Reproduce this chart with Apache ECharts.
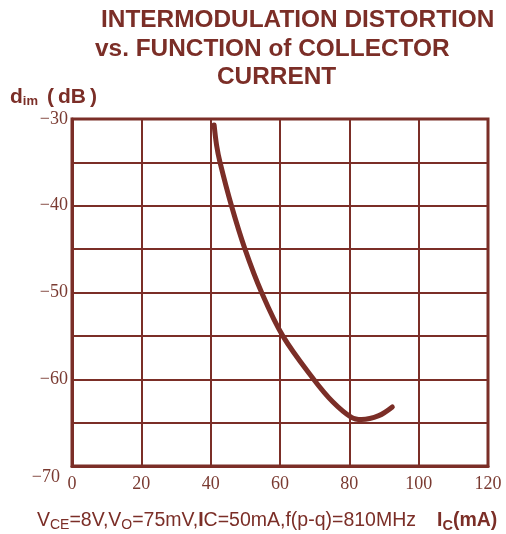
<!DOCTYPE html>
<html><head><meta charset="utf-8">
<script src="https://cdn.jsdelivr.net/npm/echarts@6/dist/echarts.min.js"></script>
<style>html,body{margin:0;padding:0;background:#fff}#c{width:506px;height:534px}</style>
</head><body><div id="c"></div>
<script>
const xCurrent = [41.0, 41.7, 42.7, 46.0, 49.9, 54.7, 60.8, 69.7, 75.2, 80.6, 83.5, 88.5, 92.4];
const yDim     = [-30.7, -33.0, -35.0, -40.0, -45.0, -50.0, -55.0, -60.0, -62.6, -64.4, -64.65, -64.2, -63.2];
const xTicks = [0, 20, 40, 60, 80, 100, 120];
const yTicks = [-70, -60, -50, -40, -30];

const C = '#7b2e27';
const LBL = '#7a3a31';
const T = {fontFamily: 'Liberation Sans', fontSize: 24.4, fontWeight: 'bold', color: C};
const chart = echarts.init(document.getElementById('c'));
chart.setOption({
  animation: false,
  backgroundColor: '#fff',
  grid: {left: 72, right: 18, top: 119, bottom: 68, show: true, borderColor: C, borderWidth: 3},
  title: [
    {text: 'INTERMODULATION DISTORTION', left: 96, top: 3, textStyle: T},
    {text: 'vs. FUNCTION of COLLECTOR', left: 90, top: 32, textStyle: T},
    {text: 'CURRENT', left: 212, top: 60, textStyle: T},
    {text: '{d|d}{sub|im}{p|(}{d|dB}{q|)}', left: 5, top: 82, textStyle: {color: C, rich: {
      d: {fontFamily: 'Liberation Sans', fontSize: 21, fontWeight: 'bold', color: C},
      sub: {fontFamily: 'Liberation Sans', fontSize: 13, fontWeight: 'bold', color: C, padding: [8, 0, 0, 0]},
      p: {fontFamily: 'Liberation Sans', fontSize: 21, color: C, padding: [0, 4, 0, 9]},
      q: {fontFamily: 'Liberation Sans', fontSize: 21, color: C, padding: [0, 0, 0, 4]}}}},
    {text: 'V{sub|CE}=8V,V{sub|O}=75mV,{b|I}C=50mA,f(p-q)=810MHz', left: 32, top: 504, textStyle: {fontFamily: 'Liberation Sans', fontSize: 19.5, fontWeight: 'normal', color: C, rich: {
      sub: {fontFamily: 'Liberation Sans', fontSize: 14, color: C, padding: [9, 0, 0, 0]},
      b: {fontFamily: 'Liberation Sans', fontSize: 19.5, fontWeight: 'bold', color: C}}}},
    {text: 'I{sub|C}(mA)', left: 432, top: 504, textStyle: {fontFamily: 'Liberation Sans', fontSize: 19.5, fontWeight: 'bold', color: C, rich: {
      sub: {fontFamily: 'Liberation Sans', fontSize: 14.5, fontWeight: 'bold', color: C, padding: [9, 0, 0, 0]}}}}
  ],
  xAxis: {
    type: 'value', min: 0, max: 120, interval: 20,
    axisLine: {show: true, lineStyle: {color: C, width: 3}},
    axisTick: {show: false},
    splitLine: {show: true, lineStyle: {color: C, width: 2}},
    axisLabel: {
      fontFamily: 'Liberation Serif', fontSize: 18, color: LBL, margin: 9,
      formatter: v => xTicks.includes(v) ? (v === 0 ? '{z|0}' : String(v)) : '',
      rich: {z: {fontFamily: 'Liberation Serif', fontSize: 18, color: LBL, padding: [0, 0, 8, 0]}}
    }
  },
  yAxis: {
    type: 'value', min: -70, max: -30, interval: 5,
    axisLine: {show: true, lineStyle: {color: C, width: 3}},
    axisTick: {show: false},
    splitLine: {show: true, lineStyle: {color: C, width: 2}},
    axisLabel: {
      fontFamily: 'Liberation Serif', fontSize: 18, color: LBL, margin: 4,
      formatter: v => yTicks.includes(v) ? (v === -70 ? '{lo|\u221270}' : '\u2212' + Math.abs(v)) : '',
      rich: {lo: {fontFamily: 'Liberation Serif', fontSize: 18, color: LBL, padding: [22, 8, 0, 0]}}
    }
  },
  series: [{
    type: 'line', smooth: 0.35, symbol: 'none',
    lineStyle: {color: C, width: 5, cap: 'round'},
    data: xCurrent.map((x, i) => [x, yDim[i]])
  }]
});
</script></body></html>
